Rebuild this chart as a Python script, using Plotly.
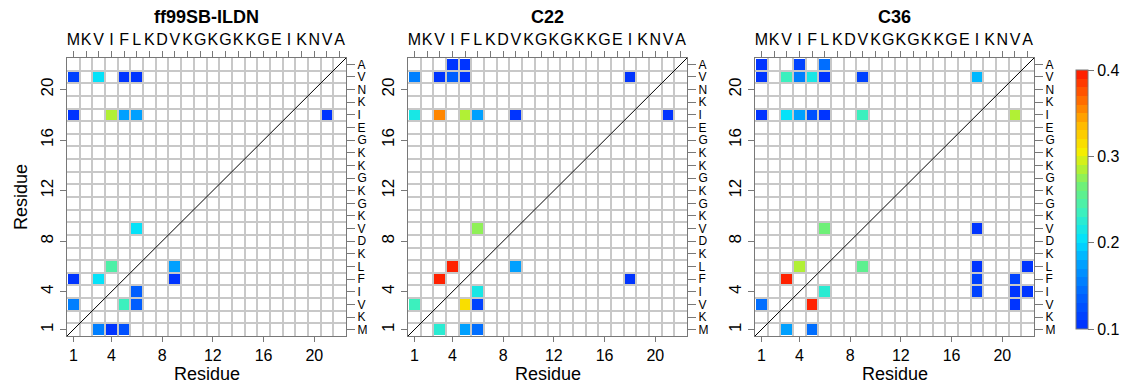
import numpy as np
import plotly.graph_objects as go

# ---------------- data ----------------
sequence = ["M", "K", "V", "I", "F", "L", "K", "D", "V", "K", "G",
            "K", "G", "K", "K", "G", "E", "I", "K", "N", "V", "A"]
n_res = len(sequence)
panel_titles = ["ff99SB-ILDN", "C22", "C36"]
num_ticks = [1, 4, 8, 12, 16, 20]

# ff99SB-ILDN contacts (residue i, residue j, probability)
ff99_x = [1, 3, 5, 6, 1, 4, 5, 6, 21, 6, 4, 9, 1, 3, 9, 6, 1, 5, 6, 3, 4, 5]
ff99_y = [21, 21, 21, 21, 18, 18, 18, 18, 18, 9, 6, 6, 5, 5, 5, 4, 3, 3, 3, 1, 1, 1]
ff99_v = [0.12, 0.20, 0.105, 0.105, 0.11, 0.28, 0.17, 0.17, 0.105, 0.20, 0.245, 0.18,
          0.10, 0.20, 0.10, 0.13, 0.16, 0.24, 0.13, 0.16, 0.10, 0.125]

# C22 contacts
c22_x = [4, 5, 1, 3, 4, 5, 18, 1, 3, 5, 6, 9, 21, 6, 4, 9, 3, 18, 6, 1, 5, 6, 3, 5, 6]
c22_y = [22, 22, 21, 21, 21, 21, 21, 18, 18, 18, 18, 18, 18, 9, 6, 6, 5, 5, 4, 3, 3, 3, 1, 1, 1]
c22_v = [0.105, 0.105, 0.16, 0.11, 0.135, 0.105, 0.105, 0.22, 0.36, 0.28, 0.18, 0.105, 0.105,
         0.27, 0.40, 0.18, 0.395, 0.105, 0.22, 0.235, 0.32, 0.115, 0.225, 0.175, 0.14]

# C36 contacts
c36_x = [1, 4, 6, 1, 3, 4, 5, 6, 9, 18, 1, 3, 4, 5, 6, 9, 21, 6, 18,
         4, 9, 18, 22, 3, 18, 21, 6, 18, 21, 22, 1, 5, 21, 3, 5]
c36_y = [22, 22, 22, 21, 21, 21, 21, 21, 21, 21, 18, 18, 18, 18, 18, 18, 18, 9, 9,
         6, 6, 6, 6, 5, 5, 5, 4, 4, 4, 4, 3, 3, 3, 1, 1]
c36_v = [0.105, 0.12, 0.15, 0.105, 0.235, 0.155, 0.215, 0.105, 0.115, 0.185,
         0.105, 0.20, 0.18, 0.125, 0.105, 0.24, 0.28, 0.26, 0.105,
         0.28, 0.25, 0.105, 0.105, 0.395, 0.12, 0.12, 0.225, 0.12, 0.11, 0.11,
         0.14, 0.395, 0.105, 0.175, 0.14]

cbar_ticks = [0.1, 0.2, 0.3, 0.4]
zmin, zmax = 0.1, 0.4

# ---------------- style ----------------
FONT = "Liberation Sans, Arial, sans-serif"
GRID = "rgb(200,200,200)"
FRAME = "rgb(120,120,120)"
W, H = 1124, 386

# stepped rainbow (blue -> cyan -> green -> yellow -> red)
anchors = [(0.0, (0, 45, 255)), (0.12, (0, 95, 255)), (0.25, (0, 160, 255)),
           (0.34, (0, 225, 255)), (0.45, (60, 240, 190)), (0.55, (110, 240, 120)),
           (0.62, (180, 240, 50)), (0.68, (245, 240, 0)), (0.78, (255, 190, 0)),
           (0.88, (255, 110, 0)), (1.0, (255, 20, 0))]


def interp(t):
    for (t0, c0), (t1, c1) in zip(anchors[:-1], anchors[1:]):
        if t0 <= t <= t1:
            f = (t - t0) / (t1 - t0) if t1 > t0 else 0
            return tuple(int(round(a + (b - a) * f)) for a, b in zip(c0, c1))
    return anchors[-1][1]


nb = 30
colorscale = []
for k in range(nb):
    c = interp((k + 0.5) / nb)
    col = f"rgb({c[0]},{c[1]},{c[2]})"
    colorscale.append([k / nb, col])
    colorscale.append([(k + 1) / nb, col])


def dense(xs, ys, vs):
    z = np.full((n_res, n_res), np.nan)
    for x, y, v in zip(xs, ys, vs):
        z[y - 1, x - 1] = v
    return z


panels = [(ff99_x, ff99_y, ff99_v), (c22_x, c22_y, c22_v), (c36_x, c36_y, c36_v)]

# panel geometry (pixels)
lefts = [67, 408, 755]
pw = 279
top_px, bot_px = 58, 336
ydom = [1 - bot_px / H, 1 - top_px / H]

fig = go.Figure()
layout = dict()
res = list(range(1, n_res + 1))

for i, (xs, ys, vs) in enumerate(panels):
    xid_b = 2 * i + 1
    xid_t = 2 * i + 2
    yid_l = 2 * i + 1
    yid_r = 2 * i + 2
    xname_b = "xaxis" if xid_b == 1 else f"xaxis{xid_b}"
    yname_l = "yaxis" if yid_l == 1 else f"yaxis{yid_l}"
    xref_b = "x" if xid_b == 1 else f"x{xid_b}"
    yref_l = "y" if yid_l == 1 else f"y{yid_l}"
    xref_t = f"x{xid_t}"
    yref_r = f"y{yid_r}"
    xdom = [lefts[i] / W, (lefts[i] + pw) / W]

    z = dense(xs, ys, vs)
    fig.add_trace(go.Heatmap(
        x=res, y=res, z=z, xaxis=xref_b, yaxis=yref_l,
        zmin=zmin, zmax=zmax, colorscale=colorscale, xgap=2, ygap=2,
        showscale=(i == 2), hoverongaps=False,
        colorbar=dict(
            x=1076 / W, xanchor="left", y=1 - 329 / H, yanchor="bottom",
            len=259 / H, lenmode="fraction", thickness=12,
            xpad=0, ypad=0,
            outlinewidth=1, outlinecolor=FRAME,
            tickvals=cbar_ticks, ticktext=[f"{t:.1f}" for t in cbar_ticks],
            ticks="outside", ticklen=6, tickcolor=FRAME,
            tickfont=dict(family=FONT, size=16, color="black"),
        ),
    ))
    # diagonal reference line (drawn on the top/right axes so they render)
    fig.add_trace(go.Scatter(
        x=[0.5, n_res + 0.5], y=[0.5, n_res + 0.5], mode="lines",
        line=dict(color="black", width=1), xaxis=xref_t, yaxis=yref_r,
        showlegend=False, hoverinfo="skip"))

    common_x = dict(range=[0.5, n_res + 0.5], domain=xdom, showline=True,
                    linecolor=FRAME, linewidth=1, zeroline=False,
                    fixedrange=True, automargin=False)
    common_y = dict(range=[0.5, n_res + 0.5], domain=ydom, showline=True,
                    linecolor=FRAME, linewidth=1, zeroline=False,
                    fixedrange=True, automargin=False)

    layout[xname_b] = dict(
        **common_x, anchor=yref_l, side="bottom",
        tickvals=num_ticks, ticks="outside", ticklen=5, tickcolor=FRAME,
        tickangle=0,
        tickfont=dict(family=FONT, size=16, color="black"),
        showgrid=False,
        minor=dict(tick0=0.5, dtick=1, showgrid=True, gridcolor=GRID,
                   gridwidth=1.5, ticks=""),
    )
    layout[f"xaxis{xid_t}"] = dict(
        **common_x, anchor=yref_r, overlaying=xref_b, side="top",
        tickvals=res, ticktext=sequence, ticks="outside", ticklen=6,
        tickcolor=FRAME, showgrid=False, tickangle=0,
        tickfont=dict(family=FONT, size=16, color="black"),
    )
    layout[yname_l] = dict(
        **common_y, anchor=xref_b, side="left",
        tickvals=num_ticks, ticks="outside", ticklen=6, tickcolor=FRAME,
        tickangle=-90, showgrid=False,
        tickfont=dict(family=FONT, size=17, color="black"),
        minor=dict(tick0=0.5, dtick=1, showgrid=True, gridcolor=GRID,
                   gridwidth=1.5, ticks=""),
    )
    layout[f"yaxis{yid_r}"] = dict(
        **common_y, anchor=xref_t, overlaying=yref_l, side="right",
        tickvals=res, ticktext=sequence, ticks="outside", ticklen=8,
        tickcolor=FRAME, showgrid=False, tickangle=0,
        tickfont=dict(family=FONT, size=12, color="black"),
    )

annotations = []
for i, t in enumerate(panel_titles):
    cx = (lefts[i] + pw / 2) / W
    annotations.append(dict(
        text=f"<b>{t}</b>", x=cx, y=1 - 17 / H,
        xref="paper", yref="paper", showarrow=False,
        font=dict(family=FONT, size=18, color="black"),
        xanchor="center", yanchor="middle"))
    annotations.append(dict(
        text="Residue", x=cx, y=0,
        xref="paper", yref="paper", showarrow=False,
        font=dict(family=FONT, size=18, color="black"),
        xanchor="center", yanchor="bottom"))
annotations.append(dict(
    text="Residue", x=21 / W, y=(ydom[0] + ydom[1]) / 2,
    xref="paper", yref="paper", showarrow=False, textangle=-90,
    font=dict(family=FONT, size=18, color="black"),
    xanchor="center", yanchor="middle"))

fig.update_layout(
    **layout,
    width=W, height=H,
    margin=dict(l=0, r=0, t=0, b=0, autoexpand=False),
    paper_bgcolor="white", plot_bgcolor="white",
    showlegend=False, annotations=annotations,
    font=dict(family=FONT, color="black"),
)

fig.write_html(
    "out.html",
    config={"displayModeBar": False},
    post_script="document.body.style.margin='0';document.body.style.overflow='hidden';",
)
